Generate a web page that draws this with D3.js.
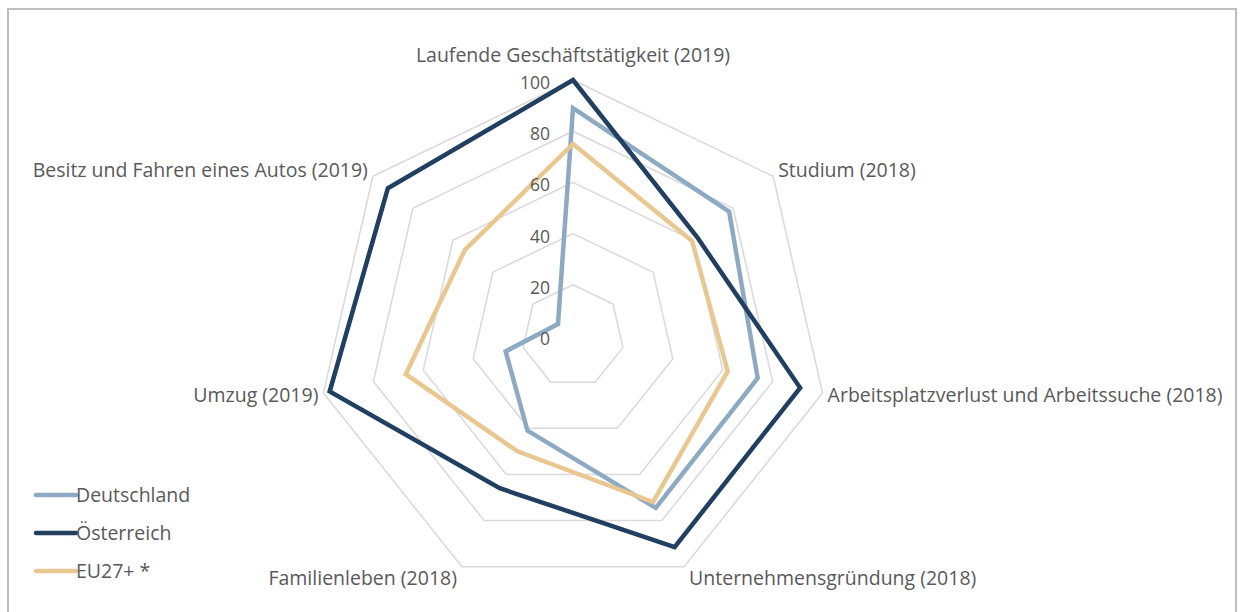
<!DOCTYPE html>
<html>
<head>
<meta charset="utf-8">
<script src="https://cdn.jsdelivr.net/npm/d3@7"></script>
<style>
  body { margin: 0; background: #fff; }
  .axis-label, .tick-label, .legend-label { font-family: "Open Sans", "Noto Sans", sans-serif; fill: #595959; }
</style>
</head>
<body>
<div id="radar-chart"></div>
<script>

// categories (clockwise, starting at the top)
var categories = [
    "Laufende Geschäftstätigkeit (2019)",
    "Studium (2018)",
    "Arbeitsplatzverlust und Arbeitssuche (2018)",
    "Unternehmensgründung (2018)",
    "Familienleben (2018)",
    "Umzug (2019)",
    "Besitz und Fahren eines Autos (2019)"
];

var seriesNames = ["Deutschland", "Österreich", "EU27+ *"];

var deutschland = [89, 78, 74, 74.5, 41, 27, 7.5];
var oesterreich = [100, 62, 91, 91.5, 66, 97.5, 92.5];
var eu27 = [75, 59.5, 62, 72, 50, 67, 54];

var tickValues = [0, 20, 40, 60, 80, 100];

var seriesColors = ["#8eaac3", "#213f60", "#e8c790"];


RadarChart = function(_parentElement, _series){
    this.parentElement = _parentElement;
    this.series = _series;
    this.initVis();
}

RadarChart.prototype.initVis = function(){
    var vis = this;

    vis.width = 1241;
    vis.height = 612;
    vis.cx = 573;
    vis.cy = 336;
    vis.radius = 256;

    vis.svg = d3.select("#" + vis.parentElement).append("svg")
        .attr("width", vis.width)
        .attr("height", vis.height);

    // outer frame
    vis.svg.append("rect")
        .attr("x", 8)
        .attr("y", 9)
        .attr("width", 1228)
        .attr("height", 620)
        .attr("fill", "none")
        .attr("stroke", "#bfbfbf")
        .attr("stroke-width", 2);

    vis.g = vis.svg.append("g")
        .attr("transform", "translate(" + vis.cx + "," + vis.cy + ")");

    vis.r = d3.scaleLinear()
        .domain([0, 100])
        .range([0, vis.radius]);

    vis.angle = d3.scalePoint()
        .domain(categories)
        .range([0, 2 * Math.PI * (categories.length - 1) / categories.length]);

    vis.line = d3.lineRadial()
        .angle(function(d) { return vis.angle(d.cat); })
        .radius(function(d) { return vis.r(d.value); })
        .curve(d3.curveLinearClosed);

    vis.wrangleData();
}

RadarChart.prototype.wrangleData = function(){
    var vis = this;

    vis.displayData = vis.series.map(function(s){
        return {
            name: s.name,
            color: s.color,
            points: categories.map(function(c, i){ return { cat: c, value: s.values[i] }; })
        };
    });

    vis.updateVis();
}

RadarChart.prototype.updateVis = function(){
    var vis = this;

    // grid heptagons
    vis.g.selectAll(".grid")
        .data(tickValues.filter(function(t){ return t > 0; }))
        .enter().append("path")
        .attr("class", "grid")
        .attr("d", function(t){
            return vis.line(categories.map(function(c){ return { cat: c, value: t }; }));
        })
        .attr("fill", "none")
        .attr("stroke", "#d9d9d9")
        .attr("stroke-width", 1.5);

    // series lines
    vis.g.selectAll(".series")
        .data(vis.displayData)
        .enter().append("path")
        .attr("class", "series")
        .attr("d", function(d){ return vis.line(d.points); })
        .attr("fill", "none")
        .attr("stroke", function(d){ return d.color; })
        .attr("stroke-width", 4.5)
        .attr("stroke-linejoin", "miter");

    // tick labels on the top axis
    vis.g.selectAll(".tick-label")
        .data(tickValues)
        .enter().append("text")
        .attr("class", "tick-label")
        .attr("x", -23)
        .attr("y", function(t){ return -vis.r(t) + 9; })
        .attr("text-anchor", "end")
        .style("font-size", "17.5px")
        .text(function(t){ return t; });

    // category labels
    vis.g.selectAll(".axis-label")
        .data(categories)
        .enter().append("text")
        .attr("class", "axis-label")
        .attr("x", function(c){
            var a = vis.angle(c), s = Math.sin(a);
            var x = vis.r(100) * s;
            if (s > 0.1) return x + 5;
            if (s < -0.1) return x - 5;
            return x;
        })
        .attr("y", function(c){
            var a = vis.angle(c), co = Math.cos(a);
            var y = -vis.r(100) * co;
            if (co > 0.9) return y - 18;
            if (co > 0.5) return y + 1;
            if (co > -0.5) return y + 9;
            return y + 18;
        })
        .attr("text-anchor", function(c){
            var s = Math.sin(vis.angle(c));
            return s > 0.1 ? "start" : (s < -0.1 ? "end" : "middle");
        })
        .style("font-size", "19.5px")
        .text(function(c){ return c; });

    // legend
    var legend = vis.svg.selectAll(".legend")
        .data(vis.displayData)
        .enter().append("g")
        .attr("class", "legend")
        .attr("transform", function(d, i){ return "translate(36," + (495 + i * 38) + ")"; });

    legend.append("line")
        .attr("x1", 0).attr("x2", 40)
        .attr("stroke", function(d){ return d.color; })
        .attr("stroke-width", 4.5)
        .attr("stroke-linecap", "round");

    legend.append("text")
        .attr("class", "legend-label")
        .attr("x", 40)
        .attr("y", 7)
        .style("font-size", "19.5px")
        .text(function(d){ return d.name; });
}

var chart = new RadarChart("radar-chart", [
    { name: seriesNames[0], values: deutschland, color: seriesColors[0] },
    { name: seriesNames[1], values: oesterreich, color: seriesColors[1] },
    { name: seriesNames[2], values: eu27, color: seriesColors[2] }
]);

</script>
</body>
</html>
